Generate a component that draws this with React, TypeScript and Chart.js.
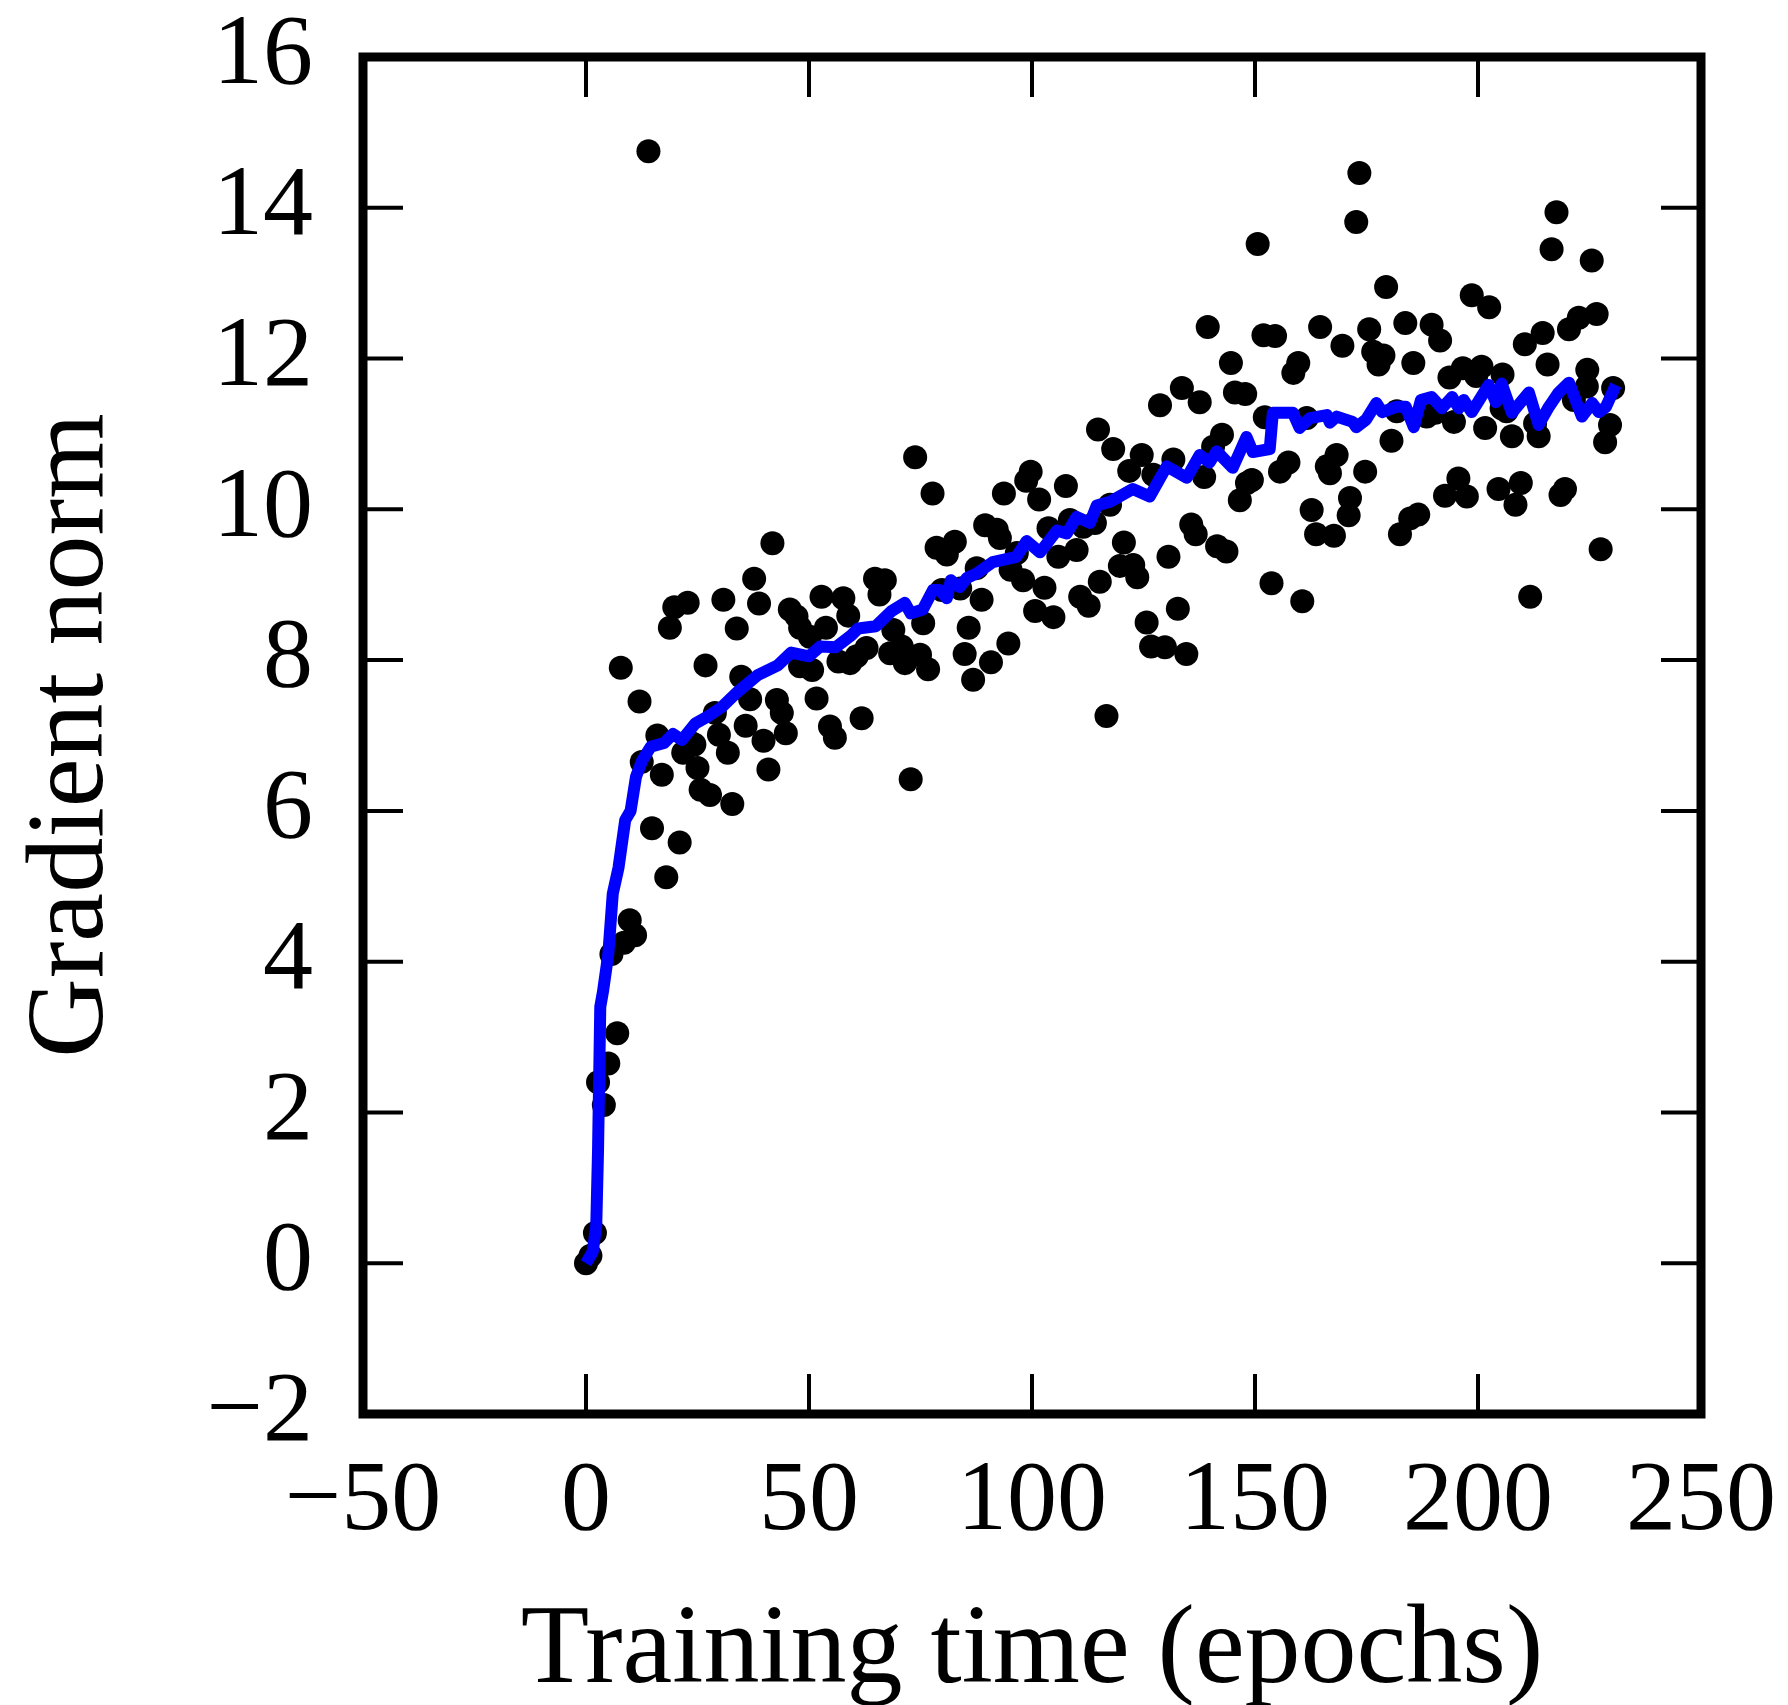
import React, { useEffect, useRef } from 'react';
import { Chart, registerables } from 'chart.js';

Chart.register(...registerables);

// ---- data ----
const epochs = [
  0, 1, 2, 2.7, 4, 5, 7, 5.7, 8.5, 9.8, 11, 7.8, 12, 12.5, 14, 14.8, 16, 17, 18, 18.8,
  19.8, 21, 21.8, 22.8, 23.6, 24.3, 25, 25.7, 26.8, 27.8, 28.9, 29.8, 30.8, 31.8, 32.8, 33.8, 34.8, 35.8, 36.8, 37.7,
  38.8, 39.8, 40.9, 41.8, 42.8, 43.9, 44.8, 45.7, 47.2, 48, 48, 50.2, 50.7, 51.7, 52.8, 53.8, 54.7, 55.8, 56.6, 57.7,
  58.8, 59.2, 60.7, 62.9, 61.8, 64.8, 65.8, 67, 68.2, 68.9, 70.8, 71.5, 72.8, 73.8, 74.9, 75.6, 76.7, 77.7, 78.6, 79.8,
  80.9, 82.7, 83.9, 84.9, 85.8, 86.8, 87.6, 88.7, 89.5, 90.8, 92.1, 92.8, 93.7, 94.7, 95.2, 96.6, 98, 98.7, 99.7, 100.7,
  101.6, 102.8, 103.7, 104.8, 105.9, 107.6, 108.5, 110, 110.8, 111.5, 112.7, 114.1, 114.8, 115.2, 116.7, 117.5, 118.2, 119.7, 120.6, 121.8,
  122.7, 123.6, 124.6, 125.7, 126.7, 127.2, 128.7, 129.8, 130.6, 131.7, 132.7, 133.6, 134.6, 135.7, 136.7, 137.6, 138.6, 139.4, 140.6, 141.5,
  142.6, 143.6, 144.6, 145.5, 146.6, 147.8, 148.2, 149.3, 150.6, 151.9, 152.2, 153.7, 154.5, 155.6, 157.5, 158.6, 159.7, 160.6, 161.6, 162.7,
  163.7, 164.6, 166.1, 166.8, 167.7, 168.3, 169.6, 171, 171.3, 172.7, 173.4, 174.7, 175.6, 176.5, 177.7, 178.8, 179.4, 180.6, 181.8, 182.5,
  183.7, 184.8, 185.5, 186.6, 188.5, 189.6, 190.4, 191.5, 192.6, 193.6, 194.6, 195.6, 196.6, 197.5, 198.6, 199.6, 200.8, 201.6, 202.5, 204.6,
  205.3, 205.5, 206.4, 207.6, 208.4, 209.6, 210.5, 211.7, 212.8, 213.6, 214.5, 215.6, 216.5, 217.6, 218.5, 219.5, 220.4, 221.5, 222.6, 224.4,
  224.5, 225.5, 226.6, 227.5, 228.5, 229.6, 230.3,
];

const gradNorms = [
  0, 0.1, 0.4, 2.4, 2.1, 2.65, 3.05, 4.1, 4.25, 4.55, 4.35, 7.9, 7.45, 6.65, 14.75, 5.77, 7.0, 6.48, 5.12, 8.43,
  8.7, 5.58, 6.77, 8.76, 6.9, 6.88, 6.57, 6.28, 7.93, 6.21, 7.3, 7.01, 8.8, 6.77, 6.09, 8.42, 7.78, 7.13, 7.48, 9.08,
  8.75, 6.93, 6.55, 9.55, 7.47, 7.3, 7.03, 8.67, 8.58, 8.43, 7.92, 8.31, 7.87, 7.49, 8.84, 8.43, 7.12, 6.97, 7.98, 8.82,
  8.59, 7.96, 8.05, 8.16, 7.23, 9.08, 8.87, 9.06, 8.09, 8.4, 8.18, 7.96, 6.42, 10.69, 8.07, 8.49, 7.88, 10.21, 9.49, 8.93,
  9.4, 9.57, 8.95, 8.08, 8.43, 7.74, 9.22, 8.8, 9.79, 7.97, 9.73, 9.62, 10.21, 8.22, 9.2, 9.42, 9.06, 10.38, 10.5, 8.65,
  10.13, 8.96, 9.75, 8.57, 9.37, 10.31, 9.86, 9.46, 8.84, 9.77, 8.72, 9.82, 11.06, 9.04, 7.26, 10.06, 10.8, 9.25, 9.56, 10.51,
  9.26, 9.1, 10.72, 8.5, 8.18, 10.46, 11.38, 8.17, 9.37, 10.66, 8.68, 11.61, 8.08, 9.8, 9.67, 11.42, 10.43, 12.42, 10.83, 9.51,
  10.99, 9.44, 11.94, 11.55, 10.12, 11.53, 10.35, 10.39, 13.52, 12.31, 11.22, 9.02, 12.3, 10.5, 10.62, 11.81, 11.94, 8.78, 11.21, 9.99,
  9.67, 12.42, 10.57, 10.48, 9.65, 10.72, 12.17, 9.92, 10.15, 13.81, 14.46, 10.5, 12.39, 12.09, 11.92, 12.04, 12.95, 10.91, 11.3, 9.67,
  12.47, 9.88, 11.94, 9.93, 11.23, 12.45, 11.28, 12.24, 10.18, 11.75, 11.16, 10.41, 11.87, 10.17, 12.84, 11.77, 11.89, 11.08, 12.68, 10.27,
  11.34, 11.79, 11.3, 10.97, 10.06, 10.35, 12.19, 8.84, 11.14, 10.97, 12.34, 11.92, 13.45, 13.94, 10.19, 10.27, 12.39, 11.45, 12.54, 11.63,
  11.85, 13.3, 12.59, 9.47, 10.89, 11.12, 11.61,
];

const smoothEpochs = [
  0, 1.5, 2.3, 2.7, 3.2, 3.8, 5.0, 6.0, 7.3, 8.8, 10.0, 11.2, 12.6, 14.5, 17.5, 19.5, 21.5, 24.5, 27.5, 30.5,
  34.0, 38.5, 43.0, 46.0, 50.0, 52.5, 56.0, 59.5, 61.0, 65.0, 68.5, 71.5, 72.8, 75.5, 77.8, 79.3, 80.9, 81.8, 83.8, 85.4,
  87.6, 91.2, 96.5, 98.8, 101.8, 105.6, 107.8, 110.0, 113.0, 114.5, 117.5, 122.6, 126.4, 130.2, 134.7, 137.6, 139.8, 141.4, 145.0, 148.1,
  149.5, 153.3, 154.0, 158.5, 160.0, 162.3, 166.1, 166.8, 168.3, 171.9, 172.7, 174.9, 177.2, 178.5, 181.6, 183.8, 185.6, 187.2, 189.6, 191.9,
  194.2, 195.7, 196.8, 198.6, 202.4, 204.0, 205.3, 207.6, 211.4, 213.6, 215.9, 218.1, 220.4, 223.3, 225.6, 227.1, 228.7, 230.9,
];

const smoothNorms = [
  0.0, 0.15, 0.5, 1.5, 3.4, 3.6, 4.1, 4.9, 5.25, 5.88, 6.0, 6.45, 6.67, 6.85, 6.9, 7.02, 6.94, 7.16, 7.26, 7.38,
  7.58, 7.8, 7.93, 8.1, 8.05, 8.18, 8.17, 8.33, 8.42, 8.45, 8.65, 8.76, 8.62, 8.67, 8.93, 8.93, 8.82, 9.06, 8.97, 9.09,
  9.15, 9.3, 9.37, 9.58, 9.43, 9.72, 9.68, 9.9, 9.82, 10.05, 10.1, 10.27, 10.17, 10.57, 10.42, 10.72, 10.62, 10.77, 10.55, 10.96,
  10.76, 10.8, 11.28, 11.28, 11.08, 11.21, 11.25, 11.15, 11.23, 11.16, 11.09, 11.19, 11.41, 11.29, 11.36, 11.36, 11.09, 11.45, 11.49, 11.34,
  11.49, 11.34, 11.45, 11.29, 11.65, 11.42, 11.67, 11.28, 11.55, 11.12, 11.36, 11.55, 11.68, 11.23, 11.41, 11.29, 11.36, 11.65,
];

const xTicks = [-50, 0, 50, 100, 150, 200, 250];
const yTicks = [-2, 0, 2, 4, 6, 8, 10, 12, 14, 16];

const xTitle = 'Training time (epochs)';
const yTitle = 'Gradient norm';

const FONT = '"Liberation Serif", "DejaVu Serif", serif';

const fmt = (v: number) => (v < 0 ? '\u2212' + Math.abs(v) : String(v));

const frameTicksPlugin = {
  id: 'frameTicks',
  afterDatasetsDraw(chart: any) {
    const { ctx, chartArea, scales } = chart;
    const { left, right, top, bottom } = chartArea;
    const len = 40;
    ctx.save();
    ctx.strokeStyle = '#000';
    ctx.lineWidth = 4;
    ctx.lineCap = 'butt';
    ctx.beginPath();
    xTicks.forEach((v) => {
      const px = scales.x.getPixelForValue(v);
      ctx.moveTo(px, bottom);
      ctx.lineTo(px, bottom - len);
      ctx.moveTo(px, top);
      ctx.lineTo(px, top + len);
    });
    yTicks.forEach((v) => {
      const py = scales.y.getPixelForValue(v);
      ctx.moveTo(left, py);
      ctx.lineTo(left + len, py);
      ctx.moveTo(right, py);
      ctx.lineTo(right - len, py);
    });
    ctx.stroke();
    ctx.lineWidth = 9;
    ctx.lineJoin = 'miter';
    ctx.strokeRect(left, top, right - left, bottom - top);
    ctx.restore();
  },
};

export default function App() {
  const canvasRef = useRef<HTMLCanvasElement | null>(null);

  useEffect(() => {
    if (!canvasRef.current) return;
    const scatterData = epochs.map((x, i) => ({ x, y: gradNorms[i] }));
    const lineData = smoothEpochs.map((x, i) => ({ x, y: smoothNorms[i] }));

    const chart = new Chart(canvasRef.current, {
      type: 'scatter',
      data: {
        datasets: [
          {
            type: 'line',
            label: 'smoothed',
            data: lineData,
            borderColor: '#0000ff',
            borderWidth: 12,
            borderCapStyle: 'butt',
            borderJoinStyle: 'round',
            pointRadius: 0,
            fill: false,
            tension: 0,
            order: 0,
          } as any,
          {
            type: 'scatter',
            label: 'gradient norm',
            data: scatterData,
            backgroundColor: '#000000',
            borderWidth: 0,
            pointRadius: 12,
            order: 1,
          } as any,
        ],
      },
      options: {
        animation: false,
        responsive: false,
        events: [],
        layout: { padding: { top: 57, right: 87, left: 0, bottom: 0 } },
        plugins: {
          legend: { display: false },
          tooltip: { enabled: false },
        },
        scales: {
          x: {
            type: 'linear',
            position: 'bottom',
            min: -50,
            max: 250,
            grid: { display: false, drawTicks: true, tickLength: 39 },
            border: { display: false },
            afterBuildTicks: (scale: any) => {
              scale.ticks = xTicks.map((v) => ({ value: v }));
            },
            afterFit: (scale: any) => {
              scale.height = 291;
            },
            ticks: {
              autoSkip: false,
              maxRotation: 0,
              minRotation: 0,
              padding: 0,
              color: '#000',
              font: { family: FONT, size: 100, lineHeight: 1 },
              callback: (v: any) => fmt(Number(v)),
            },
            title: {
              display: true,
              text: xTitle,
              color: '#000',
              font: { family: FONT, size: 112, lineHeight: 1 },
              padding: { top: 0, bottom: -4 },
            },
          },
          y: {
            type: 'linear',
            min: -2,
            max: 16,
            grid: { display: false, drawTicks: true, tickLength: 50 },
            border: { display: false },
            afterBuildTicks: (scale: any) => {
              scale.ticks = yTicks.map((v) => ({ value: v }));
            },
            afterFit: (scale: any) => {
              scale.width = 363;
            },
            ticks: {
              autoSkip: false,
              padding: 0,
              color: '#000',
              font: { family: FONT, size: 100, lineHeight: 1 },
              callback: (v: any) => fmt(Number(v)),
            },
            title: {
              display: true,
              text: yTitle,
              color: '#000',
              font: { family: FONT, size: 110, lineHeight: 1 },
              padding: { top: 18, bottom: 0 },
            },
          },
        },
      },
      plugins: [frameTicksPlugin],
    } as any);

    return () => {
      chart.destroy();
    };
  }, []);

  return (
    <div style={{ position: 'absolute', left: 0, top: 0, width: 1788, height: 1705, background: '#fff' }}>
      <canvas ref={canvasRef} width={1788} height={1705} style={{ display: 'block' }} />
    </div>
  );
}
